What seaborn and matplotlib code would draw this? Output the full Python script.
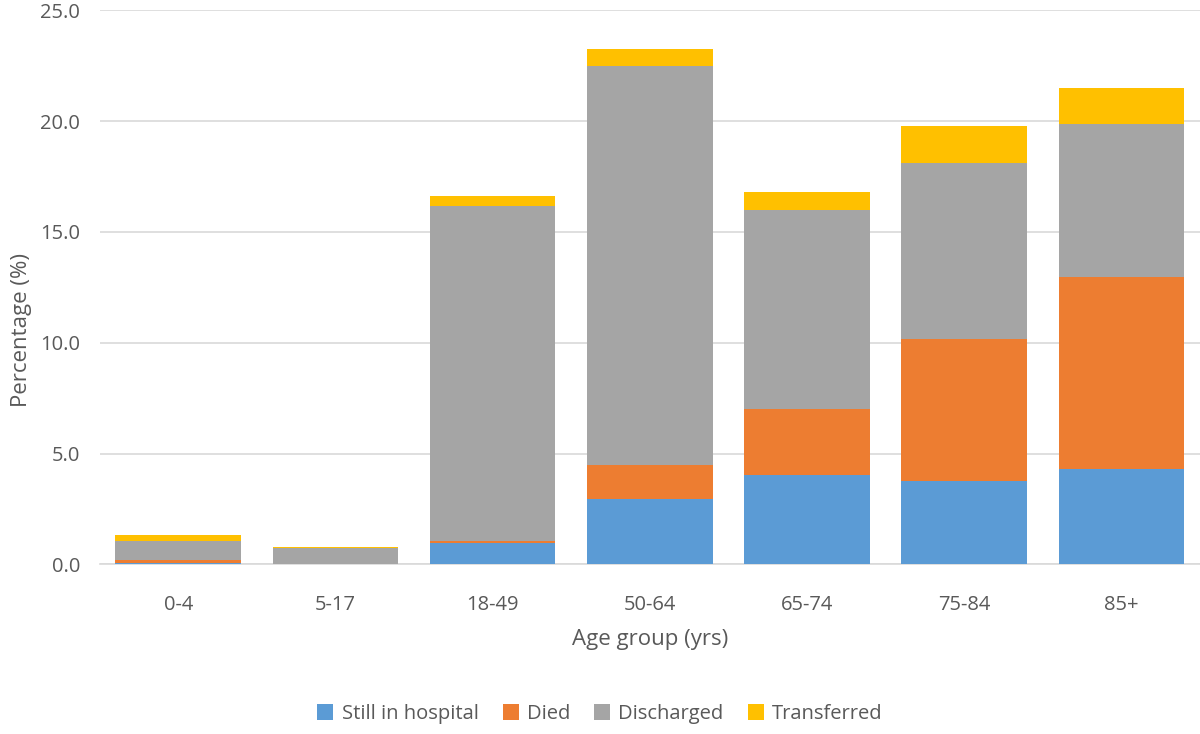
import numpy as np
import pandas as pd
import matplotlib
matplotlib.use("Agg")
import matplotlib.pyplot as plt
import seaborn as sns

age_groups = ["0-4", "5-17", "18-49", "50-64", "65-74", "75-84", "85+"]
still_in_hospital = [0.05, 0.0, 0.98, 2.95, 4.03, 3.76, 4.30]
died = [0.13, 0.0, 0.08, 1.53, 2.97, 6.40, 8.65]
discharged = [0.90, 0.76, 15.13, 17.99, 8.97, 7.94, 6.94]
transferred = [0.23, 0.03, 0.41, 0.80, 0.81, 1.70, 1.61]

series = ["Still in hospital", "Died", "Discharged", "Transferred"]
colors = ["#5B9BD5", "#ED7D31", "#A5A5A5", "#FFC000"]

sns.set_theme(style="white")
plt.rcParams["font.family"] = ["Open Sans", "DejaVu Sans"]
text_color = "#595959"

fig = plt.figure(figsize=(12, 7.34), dpi=100)
ax = fig.add_axes([0.083, 0.231, 0.917, 0.755])

# stacked bars, one seaborn call per outcome
values = [still_in_hospital, died, discharged, transferred]
bottom = np.zeros(len(age_groups))
for name, vals, col in zip(series, values, colors):
    df = pd.DataFrame({"age": age_groups, "pct": vals})
    sns.barplot(data=df, x="age", y="pct", color=col, bottom=bottom,
                width=0.8, ax=ax, label=name, saturation=1, zorder=3,
                linewidth=0, edgecolor="none")
    bottom = bottom + np.array(vals)

ax.set_ylim(0, 25)
ax.set_xlim(-0.5, len(age_groups) - 0.5)
ticks = np.arange(0, 25.1, 5)
ax.set_yticks(ticks)
ax.set_yticklabels([f"{v:.1f}" for v in ticks])
ax.grid(axis="y", color="#D9D9D9", linewidth=1.2, zorder=0)
ax.set_axisbelow(True)
for s in ["top", "right", "left"]:
    ax.spines[s].set_visible(False)
ax.spines["bottom"].set_color("#D9D9D9")
ax.spines["bottom"].set_linewidth(1.2)
ax.tick_params(axis="both", colors=text_color, labelsize=14.5, length=0)
ax.tick_params(axis="x", pad=22)
ax.tick_params(axis="y", pad=14)

ax.set_xlabel("Age group (yrs)", color=text_color, fontsize=16, va="center")
ax.set_ylabel("Percentage (%)", color=text_color, fontsize=16, va="center")
ax.xaxis.set_label_coords(0.5, -0.136)
ax.yaxis.set_label_coords(-0.071, 0.423)

handles, labels = ax.get_legend_handles_labels()
if ax.legend_:
    ax.legend_.remove()
leg = fig.legend(handles, labels, loc="center", bbox_to_anchor=(0.5, 0.027),
                 ncol=4, frameon=False, fontsize=14.5, handlelength=0.8,
                 handleheight=0.8, handletextpad=0.4, columnspacing=1.2)
for t in leg.get_texts():
    t.set_color(text_color)

fig.savefig("out.png", dpi=100)
